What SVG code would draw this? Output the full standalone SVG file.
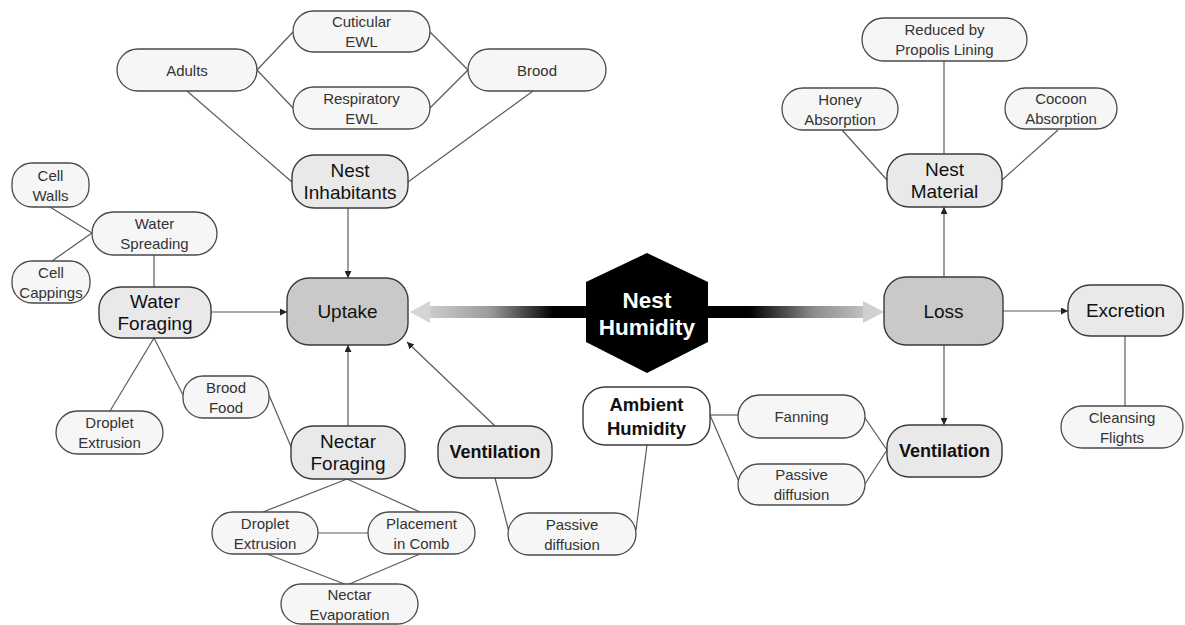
<svg xmlns="http://www.w3.org/2000/svg" width="1185" height="625" viewBox="0 0 1185 625">
<defs>
<style>
.leaf rect{fill:#f6f6f6;stroke:#4a4a4a;stroke-width:1.3}
.mid rect{fill:#e9e9e9;stroke:#3a3a3a;stroke-width:1.4}
.main rect{fill:#c9c9c9;stroke:#3a3a3a;stroke-width:1.4}
.amb rect{fill:#ffffff;stroke:#3a3a3a;stroke-width:1.4}
text{font-family:"Liberation Sans",Arial,sans-serif;text-anchor:middle;dominant-baseline:central}
.leaf text{font-size:15px;fill:#333}
.mid text,.main text{font-size:19px;fill:#111}
.b text{font-weight:bold;font-size:18px;fill:#111}
.amb text{font-weight:bold;font-size:18.5px;fill:#111}
#connectors path{fill:none;stroke:#5a5a5a;stroke-width:1.2}
.hex text{font-size:22.5px;font-weight:bold;fill:#fff}
</style>
<marker id="arr" viewBox="0 0 10 10" refX="10" refY="5" markerWidth="7" markerHeight="7" markerUnits="userSpaceOnUse" orient="auto">
<path d="M0,0 L10,5 L0,10 z" fill="#222"/>
</marker>
<linearGradient id="gl" gradientUnits="userSpaceOnUse" x1="410" y1="0" x2="590" y2="0">
<stop offset="0" stop-color="#dcdcdc"/>
<stop offset="0.45" stop-color="#9a9a9a"/>
<stop offset="0.8" stop-color="#000"/>
<stop offset="1" stop-color="#000"/>
</linearGradient>
<linearGradient id="gr" gradientUnits="userSpaceOnUse" x1="705" y1="0" x2="884" y2="0">
<stop offset="0" stop-color="#000"/>
<stop offset="0.25" stop-color="#000"/>
<stop offset="0.6" stop-color="#8a8a8a"/>
<stop offset="1" stop-color="#d6d6d6"/>
</linearGradient>
</defs>
<rect width="1185" height="625" fill="#fff"/>

<g id="connectors">
<path d="M257,70 L293,32"/>
<path d="M257,70 L293,108"/>
<path d="M430,32 L468,70"/>
<path d="M430,108 L468,70"/>
<path d="M187,91 L292,182"/>
<path d="M533,91 L408,182"/>
<path d="M348,208 L348,278" marker-end="url(#arr)"/>
<path d="M50,207 L92,233"/>
<path d="M52,261 L92,233"/>
<path d="M154,255 L154,287"/>
<path d="M211,312 L287,312" marker-end="url(#arr)"/>
<path d="M154,338 L110,411"/>
<path d="M154,338 L183,395"/>
<path d="M269,395 L292,449"/>
<path d="M348,426 L348,345" marker-end="url(#arr)"/>
<path d="M347,479 L263,512"/>
<path d="M347,479 L420,512"/>
<path d="M318,533 L368,533"/>
<path d="M267,554 L347,585"/>
<path d="M420,554 L347,585"/>
<path d="M495,426 L407,342" marker-end="url(#arr)"/>
<path d="M495,478 L509,532"/>
<path d="M647,445 L636,530"/>
<path d="M710,415 L738,415"/>
<path d="M710,415 L740,484"/>
<path d="M865,418 L887,450"/>
<path d="M865,484 L887,450"/>
<path d="M944,345 L944,425" marker-end="url(#arr)"/>
<path d="M944,277 L944,207" marker-end="url(#arr)"/>
<path d="M944,61 L944,154"/>
<path d="M842,130 L887,180"/>
<path d="M1058,130 L1002,180"/>
<path d="M1003,311 L1068,311" marker-end="url(#arr)"/>
<path d="M1125,336 L1125,406"/>
<rect x="428" y="306" width="162" height="12" fill="url(#gl)"/>
<polygon points="410,312 430,301 430,323" fill="#d4d4d4"/>
<rect x="704" y="306" width="160" height="12" fill="url(#gr)"/>
<polygon points="884,312 863,301 863,323" fill="#d0d0d0"/>
</g>

<g id="cuticular-ewl" class="leaf"><rect x="293" y="11" width="137" height="41" rx="20.5"/><text x="361.5" y="21.5">Cuticular</text><text x="361.5" y="41.5">EWL</text></g>
<g id="adults" class="leaf"><rect x="117" y="49" width="140" height="42" rx="21"/><text x="187" y="70">Adults</text></g>
<g id="respiratory-ewl" class="leaf"><rect x="293" y="87" width="137" height="42" rx="21"/><text x="361.5" y="98">Respiratory</text><text x="361.5" y="118">EWL</text></g>
<g id="brood" class="leaf"><rect x="468" y="49" width="138" height="42" rx="21"/><text x="537" y="70">Brood</text></g>
<g id="nest-inhabitants" class="mid"><rect x="292" y="155" width="116" height="53" rx="22"/><text x="350" y="170.5">Nest</text><text x="350" y="192.5">Inhabitants</text></g>
<g id="cell-walls" class="leaf"><rect x="12" y="163" width="77" height="44" rx="20"/><text x="50.5" y="175">Cell</text><text x="50.5" y="195">Walls</text></g>
<g id="water-spreading" class="leaf"><rect x="92" y="212" width="125" height="43" rx="21.5"/><text x="154.5" y="223.5">Water</text><text x="154.5" y="243.5">Spreading</text></g>
<g id="cell-cappings" class="leaf"><rect x="12" y="261" width="78" height="42" rx="20"/><text x="51" y="272">Cell</text><text x="51" y="292">Cappings</text></g>
<g id="water-foraging" class="mid"><rect x="99" y="287" width="112" height="51" rx="22"/><text x="155" y="301.5">Water</text><text x="155" y="323.5">Foraging</text></g>
<g id="uptake" class="main"><rect x="287" y="278" width="121" height="67" rx="22"/><text x="347.5" y="311.5">Uptake</text></g>
<g id="brood-food" class="leaf"><rect x="183" y="376" width="86" height="42" rx="20"/><text x="226" y="387">Brood</text><text x="226" y="407">Food</text></g>
<g id="droplet-extrusion-1" class="leaf"><rect x="56" y="411" width="107" height="43" rx="21.5"/><text x="109.5" y="422.5">Droplet</text><text x="109.5" y="442.5">Extrusion</text></g>
<g id="nectar-foraging" class="mid"><rect x="291" y="426" width="114" height="53" rx="22"/><text x="348" y="441.5">Nectar</text><text x="348" y="463.5">Foraging</text></g>
<g id="droplet-extrusion-2" class="leaf"><rect x="212" y="512" width="106" height="42" rx="21"/><text x="265" y="523">Droplet</text><text x="265" y="543">Extrusion</text></g>
<g id="placement-in-comb" class="leaf"><rect x="368" y="512" width="107" height="42" rx="21"/><text x="421.5" y="523">Placement</text><text x="421.5" y="543">in Comb</text></g>
<g id="nectar-evaporation" class="leaf"><rect x="281" y="584" width="137" height="40" rx="20"/><text x="349.5" y="594">Nectar</text><text x="349.5" y="614">Evaporation</text></g>
<g id="ventilation-uptake" class="mid b"><rect x="438" y="426" width="114" height="52" rx="22"/><text x="495" y="452">Ventilation</text></g>
<g id="passive-diffusion-1" class="leaf"><rect x="508" y="513" width="128" height="42" rx="21"/><text x="572" y="524">Passive</text><text x="572" y="544">diffusion</text></g>
<g id="ambient-humidity" class="amb"><rect x="583" y="387" width="127" height="58" rx="22"/><text x="646.5" y="404">Ambient</text><text x="646.5" y="428">Humidity</text></g>
<g id="nest-humidity" class="hex"><polygon points="647,253 708,282 708,342 647,373 586,342 586,282" fill="#000"/><text x="647" y="300">Nest</text><text x="647" y="327">Humidity</text></g>
<g id="fanning" class="leaf"><rect x="738" y="395" width="127" height="43" rx="21.5"/><text x="801.5" y="416.5">Fanning</text></g>
<g id="passive-diffusion-2" class="leaf"><rect x="738" y="464" width="127" height="41" rx="20.5"/><text x="801.5" y="474.5">Passive</text><text x="801.5" y="494.5">diffusion</text></g>
<g id="ventilation-loss" class="mid b"><rect x="887" y="425" width="115" height="52" rx="22"/><text x="944.5" y="451">Ventilation</text></g>
<g id="loss" class="main"><rect x="884" y="277" width="119" height="68" rx="22"/><text x="943.5" y="311">Loss</text></g>
<g id="excretion" class="mid"><rect x="1068" y="285" width="115" height="51" rx="22"/><text x="1125.5" y="310.5">Excretion</text></g>
<g id="cleansing-flights" class="leaf"><rect x="1061" y="406" width="122" height="42" rx="21"/><text x="1122" y="417">Cleansing</text><text x="1122" y="437">Flights</text></g>
<g id="reduced-by-propolis" class="leaf"><rect x="862" y="18" width="165" height="43" rx="21.5"/><text x="944.5" y="29.5">Reduced by</text><text x="944.5" y="49.5">Propolis Lining</text></g>
<g id="honey-absorption" class="leaf"><rect x="782" y="88" width="116" height="42" rx="21"/><text x="840" y="99">Honey</text><text x="840" y="119">Absorption</text></g>
<g id="cocoon-absorption" class="leaf"><rect x="1005" y="88" width="112" height="41" rx="20.5"/><text x="1061" y="98.5">Cocoon</text><text x="1061" y="118.5">Absorption</text></g>
<g id="nest-material" class="mid"><rect x="887" y="154" width="115" height="53" rx="22"/><text x="944.5" y="169.5">Nest</text><text x="944.5" y="191.5">Material</text></g>
</svg>
